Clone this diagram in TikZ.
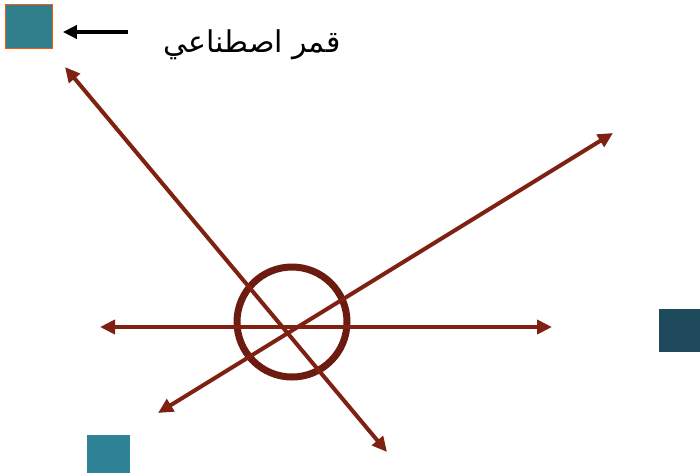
\documentclass[tikz,border=0pt]{standalone}
\usepackage{fontspec}
\newfontfamily\arabicfont[Script=Arabic]{DejaVu Sans}
\TeXXeTstate=1
\usetikzlibrary{arrows.meta}
\definecolor{rayred}{HTML}{7E2012}
\definecolor{satteal}{HTML}{2F7F8C}
\definecolor{satdark}{HTML}{1E4A5C}
\definecolor{satblue}{HTML}{2F8397}
\tikzset{
  ray/.style={draw=rayred, line width=4pt, {Triangle[length=15pt,width=14pt]}-{Triangle[length=15pt,width=14pt]}},
  sat/.style={draw=none, inner sep=0pt, anchor=north west},
  pointer/.style={draw=black, line width=3.5pt, -{Triangle[length=14pt,width=13pt]}},
  lbl/.style={font=\arabicfont\fontsize{30}{34}\selectfont, inner sep=0pt}
}
\begin{document}
\begin{tikzpicture}[x=1pt,y=-1pt]
\useasboundingbox (0,0) rectangle (700,475);
\fill[white] (0,0) rectangle (700,475);
% satellites
\node[sat, fill=satteal, draw=orange!70!red, line width=0.8pt, minimum width=47pt, minimum height=44pt] (s1) at (5,4) {};
\node[sat, fill=satdark, minimum width=42pt, minimum height=43pt] (s2) at (659,309) {};
\node[sat, fill=satblue, minimum width=43pt, minimum height=38pt] (s3) at (87,435) {};
% label and pointer
\node[lbl] (label) at (252,45) {\beginR قمر اصطناعي\endR};
\coordinate (pstart) at (128,32);
\draw[pointer, shorten >=10pt] (pstart) -- (s1.east |- pstart);
% station
\node[draw=rayred!85!black, line width=7pt, circle, minimum size=110pt, inner sep=0pt] (station) at (292,322) {};
% rays
\coordinate (h1) at (100,327);
\coordinate (h2) at (552,327);
\coordinate (d1a) at (65,67);
\coordinate (d1b) at (387,452);
\coordinate (d2a) at (158,413);
\coordinate (d2b) at (613,133);
\draw[ray] (h1) -- (h2);
\draw[ray] (d1a) -- (d1b);
\draw[ray] (d2a) -- (d2b);
\end{tikzpicture}
\end{document}
